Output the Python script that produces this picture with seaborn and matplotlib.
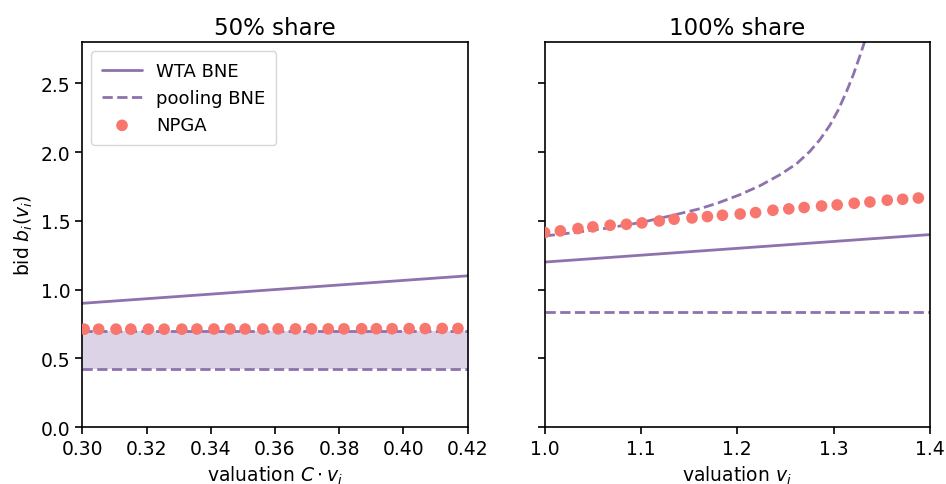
import numpy as np
import pandas as pd
import matplotlib
matplotlib.use("Agg")
import matplotlib.pyplot as plt
import seaborn as sns

# --- 50% share panel ---
half_wta_v = [0.30, 0.36, 0.42]
half_wta_b = [0.90, 1.00, 1.10]
half_pool_v = [0.30, 0.42]
half_pool_low = [0.42, 0.42]
half_pool_high = [0.70, 0.70]
half_npga_v = [0.3006, 0.3051, 0.3105, 0.3151, 0.3206, 0.3255, 0.3310, 0.3357,
               0.3410, 0.3460, 0.3507, 0.3562, 0.3610, 0.3664, 0.3714, 0.3766,
               0.3815, 0.3870, 0.3916, 0.3965, 0.4018, 0.4068, 0.4121, 0.4170]
half_npga_b = [0.712, 0.712, 0.712, 0.712, 0.712, 0.712, 0.712, 0.713,
               0.713, 0.713, 0.713, 0.713, 0.714, 0.714, 0.714, 0.714,
               0.714, 0.715, 0.715, 0.715, 0.716, 0.716, 0.717, 0.717]

# --- 100% share panel ---
full_wta_v = [1.0, 1.2, 1.4]
full_wta_b = [1.20, 1.30, 1.40]
full_pool_v = [1.0, 1.4]
full_pool_low = [0.84, 0.84]
full_pool_curve_v = [1.000, 1.030, 1.064, 1.100, 1.133, 1.161, 1.180, 1.2026,
                     1.2234, 1.2442, 1.2615, 1.2753, 1.2857, 1.2961, 1.3047,
                     1.3134, 1.3203, 1.3273, 1.3325, 1.340]
full_pool_curve_b = [1.390, 1.414, 1.446, 1.488, 1.540, 1.588, 1.630, 1.690,
                     1.755, 1.835, 1.915, 2.005, 2.090, 2.195, 2.305,
                     2.440, 2.560, 2.700, 2.810, 3.020]
full_npga_v = [1.000, 1.0163, 1.0346, 1.050, 1.068, 1.0849, 1.101, 1.119,
               1.1344, 1.153, 1.169, 1.1846, 1.203, 1.219, 1.237, 1.2535,
               1.2694, 1.2875, 1.3037, 1.3214, 1.3377, 1.3557, 1.3717, 1.388]
full_npga_b = [1.415, 1.427, 1.444, 1.456, 1.468, 1.475, 1.485, 1.499,
               1.512, 1.521, 1.531, 1.541, 1.550, 1.560, 1.577, 1.587,
               1.597, 1.608, 1.616, 1.628, 1.637, 1.650, 1.657, 1.666]

purple = '#8e72ad'
salmon = '#f8766d'

sns.set_style('ticks')
plt.rcParams['font.family'] = ['DejaVu Sans']
plt.rcParams['mathtext.fontset'] = 'dejavusans'
plt.rcParams['text.color'] = 'black'
plt.rcParams['axes.labelcolor'] = 'black'
plt.rcParams['xtick.color'] = 'black'
plt.rcParams['ytick.color'] = 'black'

fig, axes = plt.subplots(1, 2, figsize=(9.46, 4.85), dpi=100, sharey=True)
fig.subplots_adjust(left=0.087, right=0.983, top=0.911, bottom=0.1175, wspace=0.2)

# left panel
ax = axes[0]
sns.lineplot(x=half_wta_v, y=half_wta_b, ax=ax, color=purple, lw=2, label='WTA BNE')
sns.lineplot(x=half_pool_v, y=half_pool_low, ax=ax, color=purple, lw=2,
             linestyle='--', label='pooling BNE')
sns.lineplot(x=half_pool_v, y=half_pool_high, ax=ax, color=purple, lw=2, linestyle='--')
ax.fill_between(half_pool_v, half_pool_low, half_pool_high, color=purple, alpha=0.3, lw=0)
sns.scatterplot(x=half_npga_v, y=half_npga_b, ax=ax, color=salmon, s=70,
                edgecolor='none', label='NPGA', zorder=3)
ax.set_xlim(0.30, 0.42)
ax.set_xticks(np.arange(0.30, 0.421, 0.02))
ax.set_xticklabels([f'{t:.2f}' for t in np.arange(0.30, 0.421, 0.02)])
ax.set_title('50% share', fontsize=16.5)
ax.set_xlabel(r'valuation $C \cdot v_i$', fontsize=13.5)
ax.set_ylabel(r'bid $b_i(v_i)$', fontsize=13.5)
ax.legend(loc='upper left', fontsize=13, handlelength=2.2, borderpad=0.6)

# right panel
ax = axes[1]
sns.lineplot(x=full_wta_v, y=full_wta_b, ax=ax, color=purple, lw=2)
sns.lineplot(x=full_pool_v, y=full_pool_low, ax=ax, color=purple, lw=2, linestyle='--')
sns.lineplot(x=full_pool_curve_v, y=full_pool_curve_b, ax=ax, color=purple, lw=2,
             linestyle='--')
sns.scatterplot(x=full_npga_v, y=full_npga_b, ax=ax, color=salmon, s=70,
                edgecolor='none', zorder=3)
ax.set_xlim(1.0, 1.4)
ax.set_xticks([1.0, 1.1, 1.2, 1.3, 1.4])
ax.set_title('100% share', fontsize=16.5)
ax.set_xlabel(r'valuation $v_i$', fontsize=13.5)

for a in axes:
    a.set_ylim(0, 2.8)
    a.set_yticks([0.0, 0.5, 1.0, 1.5, 2.0, 2.5])
    a.tick_params(labelsize=13.5, length=5, width=1.2, color='black')
    for sp in a.spines.values():
        sp.set_color('black')
        sp.set_linewidth(1.2)
axes[1].tick_params(labelleft=False)

fig.savefig('out.png', dpi=100)
